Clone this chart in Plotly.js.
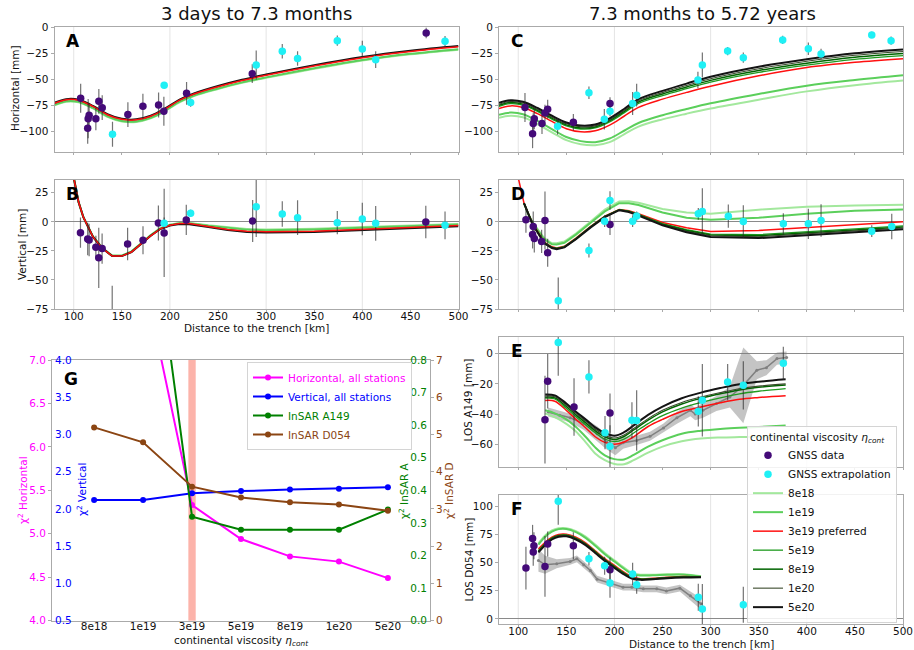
<!DOCTYPE html>
<html><head><meta charset="utf-8">
<script src="https://cdn.plot.ly/plotly-3.0.1.min.js"></script>
<style>html,body{margin:0;padding:0;background:#fff}#chart{width:914px;height:650px}</style>
</head><body><div id="chart"></div>
<script>
// ---------------- DATA ----------------
// model curves, panels A and C (horizontal)
const KM_AC = [80, 92, 105, 120, 135, 150, 165, 180, 195, 210, 225, 250, 275, 300, 350, 400, 450, 500];
const A_8E18 = [-75, -71.5, -72, -78, -86, -90.5, -91, -87.5, -80.5, -72, -66, -59.2, -53.3, -48.5, -39.8, -31.8, -25.8, -21.3];
const A_1E19 = [-74.5, -71, -71.5, -77.5, -85.5, -90, -90.5, -87, -80, -71.5, -65.5, -58.7, -52.8, -48, -39.2, -31.2, -25.3, -20.8];
const A_3E19 = [-73, -69.5, -70, -76, -84, -88.5, -89, -85.5, -78.5, -70, -64, -57, -51, -46, -37, -29, -23, -18.5];
const A_5E20 = [-72.5, -69, -69.5, -75.5, -83.5, -88, -88.5, -85, -78, -69.5, -63.5, -56.3, -50.3, -45.3, -36.2, -28.3, -22.3, -17.8];

const C_8E18 = [-87, -85, -86.5, -93, -101, -108.5, -112.5, -113.5, -110.5, -103, -95.5, -88.5, -83, -78, -69.5, -61.5, -55.5, -51];
const C_1E19 = [-84, -82, -83.5, -90, -98, -105.5, -109.5, -110.5, -107, -99.5, -92, -84.5, -78.5, -73, -64, -56, -50.5, -46];
const C_3E19 = [-78, -75.5, -77, -83, -90.5, -97.5, -100.5, -99.5, -94, -85.5, -77, -69, -62.5, -56.5, -46.5, -38.5, -33.5, -30];
const C_5E19 = [-76, -73.3, -74.8, -80.8, -88.3, -94.8, -97.8, -96.8, -91, -82.3, -73.2, -65.5, -58.9, -52.6, -43.2, -36.2, -30.6, -27];
const C_8E19 = [-75, -72.3, -73.8, -79.8, -87.3, -93.8, -96.8, -95.8, -89.8, -81, -71.8, -64, -57.3, -50.9, -41.4, -34.3, -28.6, -25];
const C_1E20 = [-74, -71.3, -72.8, -78.8, -86.3, -92.8, -95.8, -94.8, -88.8, -80, -70.6, -62.7, -55.8, -49.3, -39.7, -32.5, -26.7, -23];
const C_5E20 = [-72.6, -70, -71.5, -77.5, -85, -91.5, -94.5, -93.5, -87.5, -78.5, -69, -61, -54, -47.4, -37.7, -30.5, -24.7, -21];

// model curves, panel B (vertical, first period)
const KM_B = [100, 105, 110, 120, 130, 140, 150, 160, 170, 180, 190, 200, 210, 220, 240, 260, 280, 300, 350, 400, 450, 500];
const B_8E18 = [38, 17, 4, -12.6, -22.6, -29, -29, -25.4, -18.4, -11.4, -5.4, -2.4, -1, -1, -3, -4.9, -6.2, -6.7, -6, -4.5, -3, -1.8];
const B_1E19 = [38, 17, 4, -12.8, -22.8, -29.2, -29.2, -25.6, -18.6, -11.6, -5.6, -2.6, -1.2, -1.2, -3.3, -5.3, -6.7, -7.2, -6.5, -5, -3.5, -2.2];
const B_3E19 = [38, 17, 4, -13, -23, -29.5, -29.5, -26, -19, -12, -6, -3, -1.5, -1.5, -4, -6.5, -8, -8.5, -8, -6.5, -4.8, -3.2];
const B_5E20 = [38, 17, 4, -13, -23, -29.5, -29.5, -26, -19, -12, -6.2, -3.2, -1.8, -2, -4.5, -7, -8.7, -9.2, -8.7, -7.2, -5.5, -3.8];

// model curves, panel D (vertical, second period)
const KM_D = [100, 106, 110, 115, 120, 127, 135, 140, 148, 160, 175, 190, 205, 215, 225, 250, 275, 300, 350, 400, 450, 500];
const D_8E18 = [null, 16, 7.5, -0.5, -6, -14, -18.5, -18.5, -17, -10, 0, 10.5, 17.5, 17.7, 16.5, 11, 8, 7, 10.5, 13, 14, 14.6];
const D_1E19 = [null, 16, 7.5, -1, -6.5, -15, -19.4, -19.5, -18, -11, -1, 9, 16, 16, 14.5, 8, 3.5, 1.7, 3.5, 7, 9.5, 10.6];
const D_3E19 = [38, 16, 8, -1.5, -8, -17.4, -21.5, -22.5, -21, -14, -4, 5, 10.6, 9.5, 7, -0.5, -5, -8.3, -7.4, -5.1, -2.6, 0];
const D_5E19 = [null, 16, 7.8, -1.9, -8.4, -17.8, -21.9, -22.8, -21.3, -14.3, -4.3, 4.7, 10.4, 9.2, 6.5, -1.5, -6.8, -10.5, -11, -8.8, -6, -3.5];
const D_8E19 = [null, 16, 7.7, -2.1, -8.6, -18, -22.1, -23, -21.6, -14.6, -4.6, 4.4, 10.3, 9, 6.2, -2, -7.5, -11.3, -12, -9.8, -7, -4.5];
const D_1E20 = [null, 16, 7.6, -2.3, -8.8, -18.2, -22.3, -23.2, -21.8, -14.8, -4.8, 4.2, 10.2, 8.8, 5.9, -2.5, -8.2, -12, -12.8, -10.6, -7.8, -5.3];
const D_5E20 = [null, 16, 7.5, -2.5, -9, -18.5, -22.5, -23.5, -22, -15, -5, 4, 10, 8.5, 5.5, -3, -9, -13, -14, -11.7, -8.9, -6.3];

// model curves, panel E (LOS A149)
const KM_E = [128, 138, 150, 160, 170, 180, 190, 200, 210, 220, 235, 250, 270, 290, 310, 330, 350, 378];
const E_8E18 = [-39.5, -42, -46.5, -51.5, -58.5, -66, -70.5, -73, -73.2, -70.5, -65.5, -61.5, -58, -56.2, -55.5, -55.2, -55, -54.7];
const E_1E19 = [-37.5, -39.5, -43.5, -48.5, -55, -62, -67.3, -69.8, -70, -67, -61.5, -57.3, -53, -51, -49.8, -49.1, -48.5, -47.6];
const E_3E19 = [-31, -31.5, -37.5, -43.5, -49, -55, -58.7, -60, -58.5, -55, -48.2, -43.5, -38.3, -35.3, -32.5, -30.2, -29, -27.8];
const E_5E19 = [-29.5, -30, -36.2, -41.7, -47, -52.4, -56.5, -58.2, -56.5, -52.5, -46.3, -41, -36, -32.3, -29.2, -26.6, -24.9, -23.2];
const E_8E19 = [-28.8, -29.3, -35, -40.5, -45.7, -51, -55, -56.8, -54.8, -50.5, -44, -38.5, -33.3, -29.6, -26.6, -24, -22.3, -20.8];
const E_1E20 = [-28, -28.5, -34, -39.5, -44.7, -50, -54, -55.8, -53.8, -49.5, -43, -37.5, -32.3, -28.7, -25.8, -23.2, -21.5, -20];
const E_5E20 = [-27, -27.6, -33, -38.5, -43.5, -48.8, -52.5, -54.3, -52, -47.5, -40.5, -35, -29.5, -25.8, -22.8, -20.2, -18.6, -17];

// model curves, panel F (LOS D054)
const KM_F = [121, 128, 135, 142, 150, 160, 170, 180, 190, 200, 210, 218, 227, 240, 255, 272, 290];
const F_8E18 = [67, 74, 78.5, 80.5, 80.6, 78, 73, 66, 58.5, 52, 45.5, 40.8, 39.3, 39.3, 39.7, 39.6, 37.9];
const F_1E19 = [66, 73, 77.5, 79.7, 79.8, 77, 72, 65, 57.5, 51, 44.5, 40, 38.6, 38.7, 39.2, 39.3, 37.7];
const F_3E19 = [62, 68, 72.5, 75, 75.2, 72.5, 67.5, 60.5, 53.5, 47.5, 41.5, 37.7, 35.6, 36, 37.1, 37.7, 37.1];
const F_5E19 = [60.5, 67, 71.8, 74.2, 74.5, 71.7, 66.8, 59.8, 52.8, 46.7, 40.8, 37, 35.3, 35.7, 36.8, 37.4, 37.1];
const F_8E19 = [60, 66.5, 71.4, 73.8, 74.1, 71.3, 66.4, 59.4, 52.4, 46.2, 40.4, 36.6, 35.2, 35.6, 36.6, 37.2, 37.1];
const F_1E20 = [59.5, 66, 71, 73.5, 73.8, 71, 66, 59, 52, 45.8, 40, 36.3, 35, 35.4, 36.4, 37, 37.1];
const F_5E20 = [59, 65.5, 70.5, 73, 73.3, 70.5, 65.5, 58.5, 51.5, 45.3, 39.5, 35.9, 34.7, 35.2, 36.2, 36.8, 37.1];

// InSAR profiles (gray) with uncertainty
const E_PROF_KM = [131, 143, 154, 168, 182, 192, 201, 209, 223, 237, 251, 265, 279, 284, 292, 306, 320, 334, 348, 358, 369, 379];
const E_PROF = [-38.6, -40.8, -42.4, -46.3, -53, -58.5, -62.2, -59, -57.4, -54.7, -49.2, -42.4, -37.5, -40, -37.5, -33, -28.7, -21, -11, -9.3, -3.3, -2.6];
const E_PROF_ERR = [3, 3, 3, 4, 5, 5, 5, 4, 3, 3, 3, 4, 4, 4, 5, 5, 7, 25, 6, 5, 4, 4];
const F_PROF_KM = [121, 128, 140, 154, 161, 168, 175, 182, 195, 209, 218, 230, 244, 254, 268, 279, 290];
const F_PROF = [51.9, 48, 49, 51, 53.4, 48, 43, 35.3, 31.8, 28.2, 28.2, 26.7, 26.7, 24.9, 27.3, 20.5, 13.4];
const F_PROF_ERR = [10, 8, 4, 3, 3, 3, 3, 3, 3, 3, 3, 3, 3, 3, 3, 4, 5];

// GNSS data (purple) and GNSS extrapolation (cyan)
const A_GNSS_KM = [107.2, 114.5, 115, 116, 123, 126.1, 129.6, 156.3, 171.9, 188.2, 193.7, 217.3, 285.6, 466.4];
const A_GNSS = [-68.2, -97, -87.8, -84.5, -88, -71.1, -77.2, -83.9, -75.9, -74.6, -80.7, -63.4, -44.4, -5.2];
const A_GNSS_ERR = [14, 15, 19, 12, 11, 12, 12, 12, 12, 12, 14, 11, 9, 5];
const A_EXT_KM = [140.3, 194, 221.5, 289.7, 316.8, 332.7, 374, 400, 413.9, 486];
const A_EXT = [-102.9, -55.6, -72.3, -36, -22.9, -29.9, -12.6, -20.6, -30.9, -13.2];
const A_EXT_ERR = [12, 3, 4, 14, 7, 7, 5, 8, 8, 5];

const B_GNSS_KM = [107, 114.5, 116, 123, 126, 129.5, 156, 172, 188, 194, 217, 286, 466];
const B_GNSS = [-9.3, -14.7, -15.6, -21.9, -31, -23, -19, -15.9, -1, -9.5, 1.6, 0.7, -0.1];
const B_GNSS_ERR = [13, 14, 14, 10, 26, 13, 14, 12, 15, 38, 13, 18, 14];
const B_EXT_KM = [140, 194, 221.5, 289.7, 316.8, 332.7, 374, 400, 413.9, 486];
const B_EXT = [-80, -1.3, 7.3, 13, 6.7, 3.6, -0.7, 2.4, -1.3, -3];
const B_EXT_ERR = [25, 5, 3, 26, 11, 15, 10, 14, 15, 12];

const C_GNSS_KM = [107, 114.9, 115.6, 116.7, 124.7, 127.8, 130.6, 157.3, 195.4];
const C_GNSS = [-77, -102.3, -92.6, -88, -92.6, -82.3, -78.7, -91.3, -73.2];
const C_GNSS_ERR = [14, 14, 10, 10, 10, 8, 9, 8, 6];
const C_EXT_KM = [140.9, 173.5, 189.5, 195.4, 218.9, 223.1, 286.8, 291.4, 317.7, 334, 374.9, 401.6, 414.8, 467.5, 487.6];
const C_EXT = [-95.2, -62.9, -88.4, -80.6, -73.2, -65.2, -50.6, -36.1, -22.6, -29, -11.9, -20.3, -25.5, -7.1, -12.6];
const C_EXT_ERR = [8, 6, 10, 5, 11, 11, 8, 12, 4, 5, 4, 6, 5, 3, 4];

const D_GNSS_KM = [108, 114.9, 115.6, 116.7, 124.3, 127.8, 130.6, 195.4];
const D_GNSS = [1.7, -10.9, -4, -14.3, -16.9, 1.1, -26.6, -2.3];
const D_GNSS_ERR = [11, 12, 13, 12, 10, 25, 12, 9];
const D_EXT_KM = [141.6, 173.5, 189.8, 195.4, 218.9, 223.1, 287.2, 291.4, 318.4, 334, 375.6, 401.6, 414.8, 467.5, 488.3];
const D_EXT = [-68, -24.6, 0.6, 18.3, 0.6, 5, 6.9, 8.9, 4.9, 0.3, -1.7, -1.7, 1.1, -8, -4];
const D_EXT_ERR = [20, 6, 5, 8, 5, 4, 5, 20, 10, 14, 9, 13, 14, 5, 11];

const E_GNSS_KM = [127.8, 130.6, 158, 195.4];
const E_GNSS = [-43.7, -18.3, -35.3, -39.3];
const E_GNSS_ERR = [29, 18, 19, 13];
const E_EXT_KM = [141.6, 173.5, 190.2, 195.4, 218.2, 223.1, 287.2, 291.4, 317.7, 334, 375.6];
const E_EXT = [7.3, -15.4, -52.3, -61.3, -44.1, -44.3, -38.2, -30.9, -18.8, -21, -6.4];
const E_EXT_ERR = [22, 11, 11, 14, 12, 20, 10, 24, 12, 16, 11];

const F_GNSS_KM = [108, 114.9, 115.6, 116.3, 127.8, 130.6, 157.3, 195.4];
const F_GNSS = [45.1, 71.5, 59.3, 65, 46.6, 66.5, 65, 43.6];
const F_GNSS_ERR = [19, 12, 12, 12, 27, 11, 12, 11];
const F_EXT_KM = [141.6, 173.5, 189.8, 195.4, 218.9, 223.1, 287.2, 291.4, 334];
const F_EXT = [104.5, 53.4, 47.2, 31.8, 39.8, 30.3, 19.3, 8.9, 12.5];
const F_EXT_ERR = [21, 6, 8, 13, 10, 8, 12, 22, 16];

// panel G: misfits versus continental viscosity
const VISC = ['8e18', '1e19', '3e19', '5e19', '8e19', '1e20', '5e20'];
const CHI_HORIZ = [9.5, 8.0, 5.33, 4.94, 4.74, 4.68, 4.49];
const CHI_VERT = [2.12, 2.12, 2.21, 2.24, 2.26, 2.27, 2.29];
const CHI_A149 = [1.6, 1.44, 0.319, 0.279, 0.279, 0.279, 0.341];
const CHI_D054 = [5.19, 4.79, 3.60, 3.31, 3.18, 3.12, 2.95];
const PREFERRED = '3e19';

const GRID_KM = [100, 200, 300, 400];
const MODEL_KEYS = ['8e18', '1e19', '3e19', '5e19', '8e19', '1e20', '5e20'];
const MODEL_LABELS = {'8e18': '8e18', '1e19': '1e19', '3e19': '3e19 preferred', '5e19': '5e19', '8e19': '8e19', '1e20': '1e20', '5e20': '5e20'};

// ---------------- STYLE ----------------
const W = 914, H = 650;
const FONT = 'DejaVu Sans, Liberation Sans, sans-serif';
const FS = 10.5;
const PURPLE = '#440a78', CYAN = '#1ff0f5';
const MODEL_STYLE = {
  '8e18': {color: '#a3e89d', width: 2},
  '1e19': {color: '#5bcf5b', width: 2},
  '3e19': {color: '#ff1010', width: 1.5},
  '5e19': {color: '#1f9a1f', width: 1.3},
  '8e19': {color: '#006400', width: 1.5},
  '1e20': {color: '#3a4a2c', width: 1.1},
  '5e20': {color: '#141414', width: 2}
};
const PANELS = {
  A: {x: 'x', y: 'y', xd: [54.5, 458.5], yd: [27, 152], yr: [-120, 0.6], dt: 25},
  B: {x: 'x2', y: 'y2', xd: [54.5, 458.5], yd: [180, 309], yr: [-75, 36], dt: 25},
  C: {x: 'x3', y: 'y3', xd: [499, 903], yd: [27, 152], yr: [-120, 0.6], dt: 25},
  D: {x: 'x4', y: 'y4', xd: [499, 903], yd: [180, 309], yr: [-75, 36], dt: 25},
  E: {x: 'x5', y: 'y5', xd: [499, 903], yd: [337, 467], yr: [-75, 11], dt: 20},
  F: {x: 'x6', y: 'y6', xd: [499, 903], yd: [495, 624], yr: [-4.5, 110], dt: 25}
};

// ---------------- TRACES ----------------
const traces = [];

function band(p, km, val, err) {
  const up = val.map((v, i) => v + err[i]);
  const lo = val.map((v, i) => v - err[i]);
  traces.push({x: km.concat(km.slice().reverse()), y: up.concat(lo.slice().reverse()),
    xaxis: p.x, yaxis: p.y, mode: 'lines', fill: 'toself', fillcolor: 'rgba(125,125,125,0.45)',
    line: {width: 0}, showlegend: false, hoverinfo: 'skip'});
  traces.push({x: km, y: val, xaxis: p.x, yaxis: p.y, mode: 'lines+markers',
    line: {color: '#808080', width: 1.5}, marker: {size: 3, color: '#808080'}, showlegend: false});
}

function models(p, km, set, order, shape, legend) {
  order.forEach(k => {
    if (!set[k]) return;
    traces.push({x: km, y: set[k], xaxis: p.x, yaxis: p.y, mode: 'lines',
      line: {color: MODEL_STYLE[k].color, width: MODEL_STYLE[k].width, shape: shape},
      name: MODEL_LABELS[k], showlegend: !!legend, legend: 'legend2',
      legendrank: 100 + MODEL_KEYS.indexOf(k)});
  });
}

function points(p, km, val, err, color, name, legend, rank) {
  traces.push({x: km, y: val, xaxis: p.x, yaxis: p.y, mode: 'markers', type: 'scatter',
    marker: {color: color, size: 7.5},
    error_y: {type: 'data', array: err, visible: true, color: 'rgba(40,40,40,0.65)', thickness: 1.2, width: 0},
    name: name, showlegend: !!legend, legend: 'legend2', legendrank: rank});
}

const ORDER_AB = ['8e18', '1e19', '5e20', '3e19'];
const ORDER_CF = ['8e18', '1e19', '3e19', '5e19', '8e19', '1e20', '5e20'];

// A
models(PANELS.A, KM_AC, {'8e18': A_8E18, '1e19': A_1E19, '3e19': A_3E19, '5e20': A_5E20}, ORDER_AB, 'spline', false);
points(PANELS.A, A_GNSS_KM, A_GNSS, A_GNSS_ERR, PURPLE, 'GNSS data');
points(PANELS.A, A_EXT_KM, A_EXT, A_EXT_ERR, CYAN, 'GNSS extrapolation');
// B
models(PANELS.B, KM_B, {'8e18': B_8E18, '1e19': B_1E19, '3e19': B_3E19, '5e20': B_5E20}, ORDER_AB, 'linear', false);
points(PANELS.B, B_GNSS_KM, B_GNSS, B_GNSS_ERR, PURPLE, 'GNSS data');
points(PANELS.B, B_EXT_KM, B_EXT, B_EXT_ERR, CYAN, 'GNSS extrapolation');
// C
models(PANELS.C, KM_AC, {'8e18': C_8E18, '1e19': C_1E19, '3e19': C_3E19, '5e19': C_5E19, '8e19': C_8E19, '1e20': C_1E20, '5e20': C_5E20}, ORDER_CF, 'spline', false);
points(PANELS.C, C_GNSS_KM, C_GNSS, C_GNSS_ERR, PURPLE, 'GNSS data');
points(PANELS.C, C_EXT_KM, C_EXT, C_EXT_ERR, CYAN, 'GNSS extrapolation');
// D
models(PANELS.D, KM_D, {'8e18': D_8E18, '1e19': D_1E19, '3e19': D_3E19, '5e19': D_5E19, '8e19': D_8E19, '1e20': D_1E20, '5e20': D_5E20}, ORDER_CF, 'linear', false);
points(PANELS.D, D_GNSS_KM, D_GNSS, D_GNSS_ERR, PURPLE, 'GNSS data');
points(PANELS.D, D_EXT_KM, D_EXT, D_EXT_ERR, CYAN, 'GNSS extrapolation');
// E
band(PANELS.E, E_PROF_KM, E_PROF, E_PROF_ERR);
models(PANELS.E, KM_E, {'8e18': E_8E18, '1e19': E_1E19, '3e19': E_3E19, '5e19': E_5E19, '8e19': E_8E19, '1e20': E_1E20, '5e20': E_5E20}, ORDER_CF, 'spline', true);
points(PANELS.E, E_GNSS_KM, E_GNSS, E_GNSS_ERR, PURPLE, 'GNSS data', true, 1);
points(PANELS.E, E_EXT_KM, E_EXT, E_EXT_ERR, CYAN, 'GNSS extrapolation', true, 2);
// F
band(PANELS.F, F_PROF_KM, F_PROF, F_PROF_ERR);
models(PANELS.F, KM_F, {'8e18': F_8E18, '1e19': F_1E19, '3e19': F_3E19, '5e19': F_5E19, '8e19': F_8E19, '1e20': F_1E20, '5e20': F_5E20}, ORDER_CF, 'spline', false);
points(PANELS.F, F_GNSS_KM, F_GNSS, F_GNSS_ERR, PURPLE, 'GNSS data');
points(PANELS.F, F_EXT_KM, F_EXT, F_EXT_ERR, CYAN, 'GNSS extrapolation');

// G
const G_SERIES = [
  {y: CHI_HORIZ, ax: 'y7', color: '#ff00ff', name: 'Horizontal, all stations'},
  {y: CHI_VERT, ax: 'y8', color: '#0000ff', name: 'Vertical, all stations'},
  {y: CHI_A149, ax: 'y9', color: '#008000', name: 'InSAR A149'},
  {y: CHI_D054, ax: 'y10', color: '#8b4513', name: 'InSAR D054'}
];
G_SERIES.forEach(s => {
  traces.push({x: VISC, y: s.y, xaxis: 'x7', yaxis: s.ax, mode: 'lines+markers',
    line: {color: s.color, width: 2}, marker: {color: s.color, size: 6},
    name: '<span style="color:' + s.color + '">' + s.name + '</span>', legend: 'legend', showlegend: true});
});

// ---------------- LAYOUT ----------------
const fx = px => px / W;
const fy = py => 1 - py / H;
const layout = {
  width: W, height: H, margin: {l: 0, r: 0, t: 0, b: 0},
  paper_bgcolor: '#fff', plot_bgcolor: '#fff',
  font: {family: FONT, size: FS, color: '#111'},
  showlegend: true, hovermode: false,
  shapes: [], annotations: []
};
const AXLINE = '#aaaaaa';
function label(text, x, y, angle, color) {
  layout.annotations.push({xref: 'paper', yref: 'paper', x: fx(x), y: fy(y), text: text, textangle: angle || 0,
    font: {size: FS, color: color || '#111'}, showarrow: false, xanchor: 'center', yanchor: 'middle'});
}
const LABELED_X = {B: true, F: true};
Object.keys(PANELS).forEach(k => {
  const p = PANELS[k];
  const xk = 'xaxis' + p.x.slice(1), yk = 'yaxis' + p.y.slice(1);
  layout[xk] = {domain: [fx(p.xd[0]), fx(p.xd[1])], anchor: p.y, range: [80, 500], dtick: 50, tick0: 0,
    ticks: 'outside', ticklen: 2, tickcolor: AXLINE, showline: true, linecolor: AXLINE, mirror: true,
    showgrid: false, zeroline: false, showticklabels: !!LABELED_X[k], ticklabelstandoff: -5,
    tickfont: {size: FS, color: '#111'}};
  layout[yk] = {domain: [fy(p.yd[1]), fy(p.yd[0])], anchor: p.x, range: p.yr, dtick: p.dt, tick0: 0,
    ticks: 'outside', ticklen: 3, tickcolor: AXLINE, showline: true, linecolor: AXLINE, mirror: true,
    showgrid: false, zeroline: true, zerolinecolor: '#8a8a8a', zerolinewidth: 1,
    tickfont: {size: FS, color: '#111'}};
  GRID_KM.forEach(g => layout.shapes.push({type: 'line', xref: p.x, yref: p.y + ' domain', x0: g, x1: g, y0: 0, y1: 1,
    line: {color: '#e4e4e4', width: 1}, layer: 'below'}));
  layout.annotations.push({xref: p.x + ' domain', yref: p.y + ' domain', x: 0.024, y: 0.985, xanchor: 'left', yanchor: 'top',
    text: '<b>' + k + '</b>', font: {size: 17, color: '#000'}, showarrow: false});
});
// axis titles
label('Distance to the trench [km]', 256.5, 327.5);
label('Distance to the trench [km]', 701, 643.5);
label('Horizontal [mm]', 15, 88, -90);
label('Vertical [mm]', 22, 245, -90);
label('LOS A149 [mm]', 467.5, 400, -90);
label('LOS D054 [mm]', 468.5, 560, -90);

// G axes
const GX = [52, 430], GY = [360, 620.7];
layout.xaxis7 = {domain: [fx(GX[0]), fx(GX[1])], anchor: 'y7', type: 'category', range: [-0.86, 6.86],
  ticks: 'outside', ticklen: 1, tickcolor: '#fff', showline: true, linecolor: AXLINE, mirror: true,
  showgrid: false, zeroline: false, ticklabelstandoff: -5, tickfont: {size: FS, color: '#111'}};
label('continental viscosity <i>η</i><sub><i>cont</i></sub>', 241, 640.5);
const gy = (o) => Object.assign({domain: [fy(GY[1]), fy(GY[0])], anchor: 'x7', showgrid: false, zeroline: false,
  ticks: 'outside', ticklen: 3, tickcolor: AXLINE, ticklabeloverflow: 'allow'}, o);
layout.yaxis7 = gy({range: [4, 7], dtick: 0.5, tick0: 0, tickformat: '.1f', showline: true, linecolor: AXLINE, mirror: true,
  tickfont: {size: FS, color: '#ff00ff'}});
layout.yaxis8 = gy({overlaying: 'y7', side: 'left', range: [0.5, 4], dtick: 0.5, tick0: 0, tickformat: '.1f',
  ticklabelposition: 'inside', ticks: '', tickfont: {size: FS, color: '#0000ff'}});
layout.yaxis9 = gy({overlaying: 'y7', side: 'right', range: [0, 0.8], dtick: 0.1, tick0: 0, tickformat: '.1f',
  ticklabelposition: 'inside', ticks: '', tickfont: {size: FS, color: '#008000'}});
layout.yaxis10 = gy({overlaying: 'y7', side: 'right', range: [0, 7], dtick: 1, tick0: 0, showline: true, linecolor: AXLINE,
  tickfont: {size: FS, color: '#8b4513'}});
const prefIdx = VISC.indexOf(PREFERRED);
layout.shapes.push({type: 'rect', xref: 'x7', yref: 'y7 domain', x0: prefIdx - 0.075, x1: prefIdx + 0.075, y0: 0, y1: 1,
  fillcolor: 'rgba(250,128,114,0.6)', line: {width: 0}, layer: 'below'});
layout.annotations.push({xref: 'x7 domain', yref: 'y7 domain', x: 0.026, y: 0.975, xanchor: 'left', yanchor: 'top',
  text: '<b>G</b>', font: {size: 17, color: '#000'}, showarrow: false});
label('χ<sup>2</sup> Horizontal', 22, 490, -90, '#ff00ff');
label('χ<sup>2</sup> Vertical', 81, 490, -90, '#0000ff');
label('χ<sup>2</sup> InSAR A', 403, 491, -90, '#008000');
label('χ<sup>2</sup> InSAR D', 448, 491, -90, '#8b4513');

// column titles
layout.annotations.push({xref: 'paper', yref: 'paper', x: fx(256), y: fy(14), text: '3 days to 7.3 months',
  font: {size: 18, color: '#111'}, showarrow: false, xanchor: 'center', yanchor: 'middle'});
layout.annotations.push({xref: 'paper', yref: 'paper', x: fx(702), y: fy(14), text: '7.3 months to 5.72 years',
  font: {size: 18, color: '#111'}, showarrow: false, xanchor: 'center', yanchor: 'middle'});

// legends
layout.legend = {x: fx(247), y: fy(362), xanchor: 'left', yanchor: 'top', bgcolor: 'rgba(255,255,255,0.85)',
  bordercolor: '#d4d4d4', borderwidth: 1, font: {size: FS}, tracegroupgap: 0};
layout.legend2 = {x: fx(747), y: fy(426), xanchor: 'left', yanchor: 'top', bgcolor: 'rgba(255,255,255,0.85)',
  bordercolor: '#d4d4d4', borderwidth: 1, font: {size: FS}, traceorder: 'normal',
  title: {text: 'continental viscosity <i>η</i><sub><i>cont</i></sub>', font: {size: FS}}};

Plotly.newPlot('chart', traces, layout, {displayModeBar: false, staticPlot: true});
</script></body></html>
